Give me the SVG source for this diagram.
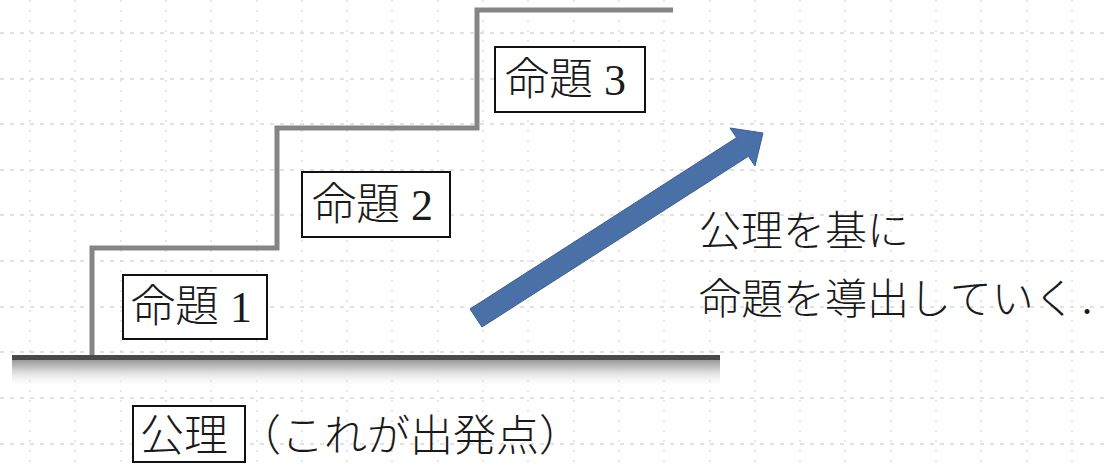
<svg xmlns="http://www.w3.org/2000/svg" width="1108" height="467" viewBox="0 0 1108 467">
<style>
.gh{stroke:#c4c4c4;stroke-width:1;stroke-dasharray:4 6;fill:none}
.gv{stroke:#cfcfcf;stroke-width:1;stroke-dasharray:2 8;fill:none}
.box{fill:#fff;stroke:#111;stroke-width:2}
.t{font-family:"Liberation Serif","Noto Sans CJK JP",serif;font-weight:300;fill:#1a1a1a}
</style>
<defs>
<linearGradient id="shadow" x1="0" y1="0" x2="0" y2="1">
<stop offset="0" stop-color="#9a9a9a"/>
<stop offset="0.35" stop-color="#d0d0d0"/>
<stop offset="1" stop-color="#ffffff" stop-opacity="0"/>
</linearGradient>
</defs>
<rect width="1108" height="467" fill="#fff"/>
<g id="grid">
<path class="gh" d="M0 33H1108M0 79H1108M0 124H1108M0 170H1108M0 215H1108M0 261H1108M0 307H1108M0 352H1108M0 398H1108M0 444H1108"/>
<path class="gv" d="M30 0V467M75 0V467M121 0V467M166 0V467M211 0V467M257 0V467M302 0V467M347 0V467M392 0V467M438 0V467M483 0V467M528 0V467M574 0V467M619 0V467M664 0V467M710 0V467M755 0V467M800 0V467M845 0V467M891 0V467M936 0V467M981 0V467M1027 0V467M1072 0V467"/>
</g>
<g id="ground">
<rect x="12" y="360" width="708" height="28" fill="url(#shadow)"/>
<rect x="12" y="355" width="708" height="5" fill="#4a4a4a"/>
</g>
<g id="stairs">
<path d="M92 355V248H277V128H477V10H673" fill="none" stroke="#858585" stroke-width="5"/>
</g>
<g id="p1">
<rect class="box" x="123" y="275" width="144" height="64"/>
<text class="t" x="131" y="307" font-size="44" dominant-baseline="central">命題 1</text>
</g>
<g id="p2">
<rect class="box" x="302" y="172" width="148" height="65"/>
<text class="t" x="312" y="205" font-size="44" dominant-baseline="central">命題 2</text>
</g>
<g id="p3">
<rect class="box" x="495" y="47" width="150" height="65"/>
<text class="t" x="505" y="80" font-size="44" dominant-baseline="central">命題 3</text>
</g>
<g id="connectors">
<polygon points="470,309 736.5,137.7 730,128 763,133 755,166 748.4,156.3 482,327" fill="#4a70a8" stroke="#3a5d90" stroke-width="1"/>
</g>
<g id="note">
<text class="t" x="699" y="232" font-size="42" dominant-baseline="central">公理を基に</text>
<text class="t" x="699" y="300" font-size="42" dominant-baseline="central">命題を導出していく<tspan dx="6">.</tspan></text>
</g>
<g id="axiom">
<rect class="box" x="133" y="406" width="112" height="56"/>
<text class="t" x="140" y="436" font-size="44" dominant-baseline="central">公理</text>
<text class="t" x="238" y="436" font-size="43" dominant-baseline="central">（これが出発点）</text>
</g>
</svg>
